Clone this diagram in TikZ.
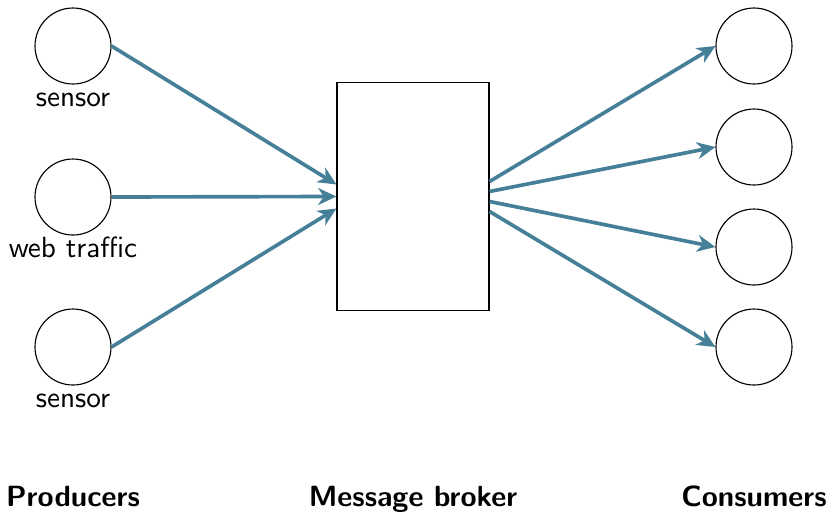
\documentclass[tikz,border=0pt]{standalone}
\usepackage{xcolor}
\usepackage{tikz}
\usetikzlibrary{
  arrows.meta,
  positioning,
  calc
}
\definecolor{FlowTeal}{HTML}{467F98}
\tikzset{
  endpoint/.style={
    draw,
    circle,
    thin,
    minimum size=0.95cm,
    inner sep=0pt,
    label distance=0.3pt
  },
  every label/.style={
    text height=1ex,
    text depth=0pt
  },
  broker/.style={
    draw,
    thin,
    minimum width=1.9cm,
    minimum height=2.84cm
  },
  flow/.style={
    -{Stealth[length=6.5pt,width=6pt,inset=2pt]},
    draw=FlowTeal,
    line width=1.3pt
  },
  heading/.style={
    font=\fontsize{10.4}{12.5}\selectfont\sffamily\bfseries,
    anchor=base
  }
}

\begin{document}
\begin{tikzpicture}[font=\fontsize{10.4}{12.5}\selectfont\sffamily]

  \useasboundingbox (0,0) rectangle (10.3625,-6.425);

  % producers
  \node[
    endpoint,
    label=below:sensor
  ] (prodA) at (0.9125,-0.575) {};

  \node[
    endpoint,
    label=below:web traffic
  ] (prodB) at (0.9125,-2.4625) {};

  \node[
    endpoint,
    label=below:sensor
  ] (prodC) at (0.9125,-4.3375) {};

  % broker
  \node[broker] (broker) at (5.1625,-2.456) {};

  % consumers
  \node[endpoint] (consA) at (9.425,-0.575) {};
  \node[endpoint] (consB) at (9.425,-1.8375) {};
  \node[endpoint] (consC) at (9.425,-3.0875) {};
  \node[endpoint] (consD) at (9.425,-4.3375) {};

  \coordinate (inA) at ($(broker.west)+(0,0.15)$);
  \coordinate (inB) at (broker.west);
  \coordinate (inC) at ($(broker.west)+(0,-0.15)$);

  \coordinate (outA) at ($(broker.east)+(0,0.1875)$);
  \coordinate (outB) at ($(broker.east)+(0,0.0625)$);
  \coordinate (outC) at ($(broker.east)+(0,-0.0625)$);
  \coordinate (outD) at ($(broker.east)+(0,-0.1875)$);

  \draw[flow] (prodA.east) -- (inA);
  \draw[flow] (prodB.east) -- (inB);
  \draw[flow] (prodC.east) -- (inC);

  \draw[flow] (outA) -- (consA.west);
  \draw[flow] (outB) -- (consB.west);
  \draw[flow] (outC) -- (consC.west);
  \draw[flow] (outD) -- (consD.west);

  % column titles
  \node[heading] (producers) at (0.9125,-6.33) {Producers};
  \node[heading] (brokertitle) at (5.1625,-6.33) {Message broker};
  \node[heading] (consumers) at (9.425,-6.33) {Consumers};

\end{tikzpicture}
\end{document}
